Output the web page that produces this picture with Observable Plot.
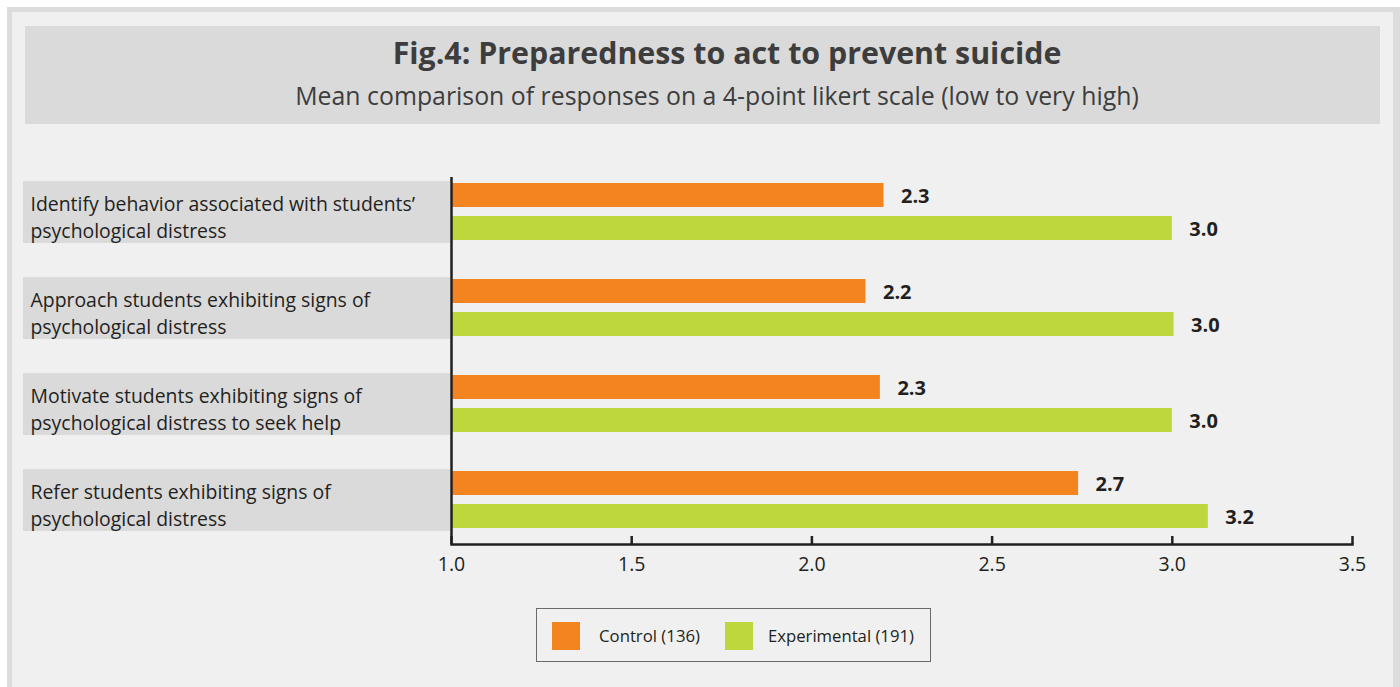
<!DOCTYPE html>
<html>
<head>
<meta charset="utf-8">
<script src="https://cdn.jsdelivr.net/npm/d3@7"></script>
<script src="https://cdn.jsdelivr.net/npm/@observablehq/plot@0.6"></script>
<style>
  html, body { margin: 0; padding: 0; background: #ffffff; width: 1400px; height: 687px; overflow: hidden; font-family: "Open Sans", sans-serif; }
  #frame { position: absolute; left: 7px; top: 7px; width: 1393px; height: 700px; box-sizing: border-box; border: 5px solid #dcdcdc; border-right-width: 7px; background: #eff0ef; }
  #titlebox { position: absolute; left: 25px; top: 26px; width: 1355px; height: 98px; background: #dadada; }
  .hdr { position: absolute; white-space: nowrap; line-height: 1; transform: translateX(-50%); }
  #title { left: 727px; font-size: 28px; font-weight: 700; color: #3d3d3d; }
  #subtitle { left: 717px; font-size: 22px; font-weight: 400; color: #3d3d3d; }
  #chart { position: absolute; left: 0; top: 0; }
  #legend { position: absolute; left: 536px; top: 608px; width: 395px; height: 54px; box-sizing: border-box; border: 1.5px solid #6a6a6a; }
  .sw { position: absolute; width: 28px; height: 28px; top: 622px; }
  .lt { position: absolute; font-size: 16px; line-height: 1; white-space: nowrap; color: #231f20; }
</style>
</head>
<body>
<div id="frame"></div>
<div id="titlebox"></div>
<div id="title" class="hdr">Fig.4: Preparedness to act to prevent suicide</div>
<div id="subtitle" class="hdr">Mean comparison of responses on a 4-point likert scale (low to very high)</div>
<div id="chart"></div>
<div id="legend"></div>
<script>
// ---- data ----
const categories = [
  "Identify behavior associated with students’ psychological distress",
  "Approach students exhibiting signs of psychological distress",
  "Motivate students exhibiting signs of psychological distress to seek help",
  "Refer students exhibiting signs of psychological distress"
];
const categoryLines = [
  "Identify behavior associated with students’\npsychological distress",
  "Approach students exhibiting signs of\npsychological distress",
  "Motivate students exhibiting signs of\npsychological distress to seek help",
  "Refer students exhibiting signs of\npsychological distress"
];
const seriesNames = ["Control (136)", "Experimental (191)"];
const controlValues = [2.20, 2.15, 2.19, 2.74];
const experimentalValues = [3.00, 3.005, 3.00, 3.10];
const controlLabels = ["2.3", "2.2", "2.3", "2.7"];
const experimentalLabels = ["3.0", "3.0", "3.0", "3.2"];
const xTicks = [1.0, 1.5, 2.0, 2.5, 3.0, 3.5];
const seriesColors = ["#f4841f", "#bed73c"];

const control = categories.map((c, i) => ({category: c, value: controlValues[i], label: controlLabels[i]}));
const experimental = categories.map((c, i) => ({category: c, value: experimentalValues[i], label: experimentalLabels[i]}));

// ---- font fitting helpers ----
const ctx = document.createElement("canvas").getContext("2d");
function measure(text, size, weight) {
  ctx.font = `${weight || 400} ${size}px "Open Sans"`;
  return ctx.measureText(text).width;
}
function fitSize(el, target, baseline) {
  const s0 = parseFloat(getComputedStyle(el).fontSize);
  const w = el.getBoundingClientRect().width;
  const s = s0 * target / w;
  el.style.fontSize = s + "px";
  el.style.top = (baseline - 0.888 * s) + "px";
}
fitSize(document.getElementById("title"), 669, 65);
fitSize(document.getElementById("subtitle"), 844, 105);

const labelSize = 19 * 385 / measure("Identify behavior associated with students’", 19, 400);

const chart = Plot.plot({
  width: 1400,
  height: 687,
  marginLeft: 451,
  marginRight: 48,
  marginTop: 177,
  marginBottom: 143,
  style: {background: "transparent", fontFamily: "'Open Sans', sans-serif", fontSize: "18px", color: "#231f20", overflow: "visible"},
  x: {domain: [1, 3.5], axis: null},
  y: {domain: categories, axis: null, paddingInner: 0.408, paddingOuter: 0.11, align: 0.28},
  marks: [
    Plot.barX(categories, {y: d => d, x1: 1, x2: 1, insetLeft: -428, insetRight: 1, insetTop: -2, insetBottom: -3, fill: "#dadada"}),
    Plot.text(categories, {y: d => d, text: (d, i) => categoryLines[i], frameAnchor: "left", dx: -421, dy: 4, textAnchor: "start", lineAnchor: "middle", lineHeight: 27 / labelSize, fontSize: labelSize, fill: "#231f20"}),
    Plot.barX(control, {y: "category", x1: 1, x2: "value", insetBottom: 33, fill: seriesColors[0]}),
    Plot.barX(experimental, {y: "category", x1: 1, x2: "value", insetTop: 33, fill: seriesColors[1]}),
    Plot.text(control, {y: "category", x: "value", text: "label", dx: 17, dy: -15, textAnchor: "start", lineAnchor: "middle", fontWeight: "bold", fontSize: 20, fill: "#231f20"}),
    Plot.text(experimental, {y: "category", x: "value", text: "label", dx: 17, dy: 18, textAnchor: "start", lineAnchor: "middle", fontWeight: "bold", fontSize: 20, fill: "#231f20"}),
    Plot.axisX({ticks: xTicks, tickFormat: d3.format(".1f"), tickSize: -8, tickPadding: 21, strokeWidth: 2.5, stroke: "#231f20", fill: "#231f20", fontSize: 19.5, label: null}),
    Plot.ruleX([1], {stroke: "#231f20", strokeWidth: 2.5}),
    Plot.frame({anchor: "bottom", stroke: "#231f20", strokeWidth: 2.5})
  ]
});
document.getElementById("chart").appendChild(chart);

// ---- legend ----
const legendX = [[552, 599], [725, 768]];
const legendW = [101, 146];
seriesNames.forEach((name, i) => {
  const sw = document.createElement("div");
  sw.className = "sw";
  sw.style.left = legendX[i][0] + "px";
  sw.style.background = seriesColors[i];
  document.body.appendChild(sw);
  const t = document.createElement("div");
  t.className = "lt";
  t.style.left = legendX[i][1] + "px";
  t.textContent = name;
  document.body.appendChild(t);
  fitSize(t, legendW[i], 643);
});
</script>
</body>
</html>
